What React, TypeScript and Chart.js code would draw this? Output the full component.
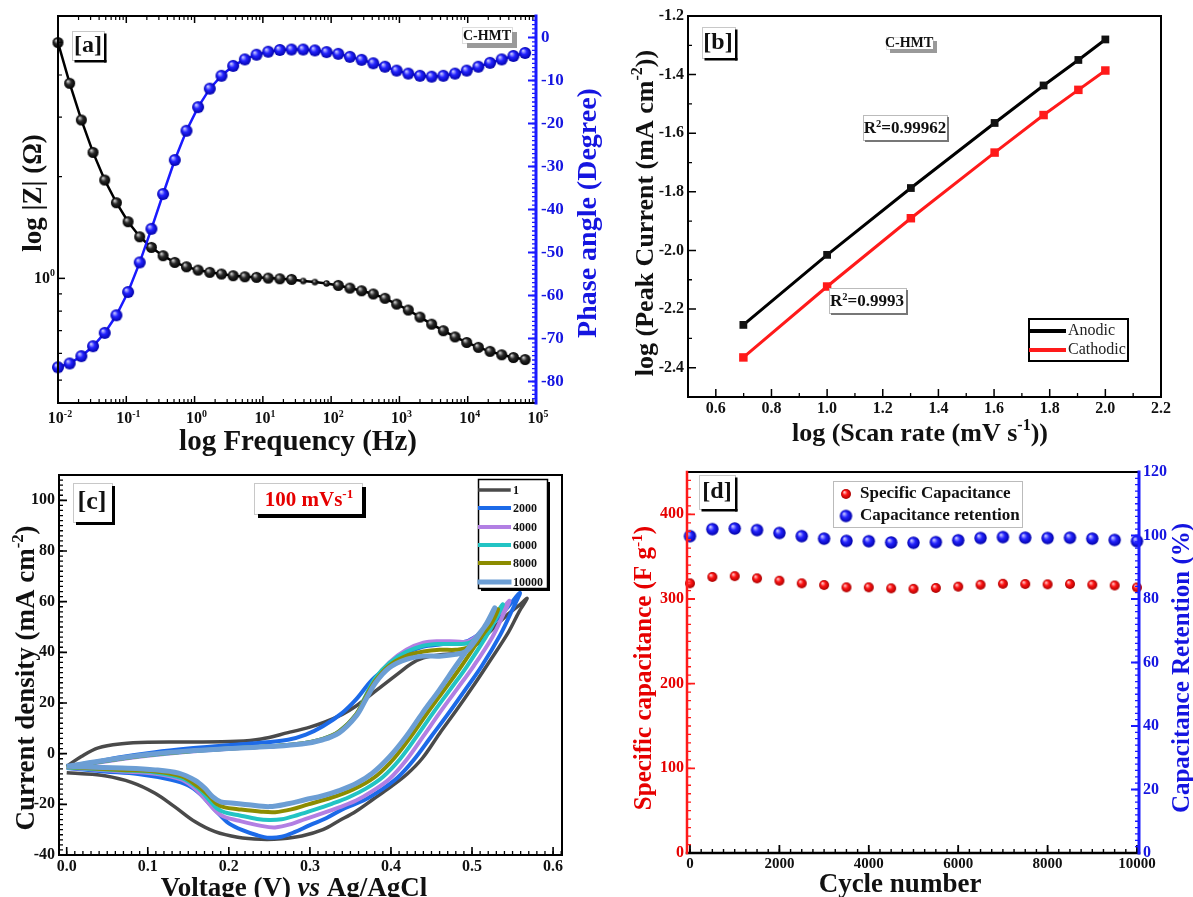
import React, { useEffect, useRef } from 'react';
import { Chart, registerables } from 'chart.js';

Chart.register(...registerables);

const SERIF = '"Liberation Serif", "Times New Roman", Times, serif';
const BLUE = '#1a1aff';
const BLUE_TXT = '#1515e0';
const RED = '#ff1a1a';
const RED_TXT = '#e60000';

// ================= Panel [a] : Bode plot =================
const bodeFrequencyHz = [0.01, 0.01483, 0.02198, 0.03258, 0.04831, 0.07161, 0.1062, 0.1574, 0.2333, 0.3459, 0.5129, 0.7603, 1.127, 1.671, 2.477, 3.673, 5.445, 8.072, 11.97, 17.74, 26.3, 38.99, 57.81, 85.7, 127.1, 188.4, 279.3, 414.0, 613.8, 910.0, 1349, 2000, 2965, 4395, 6516, 9661, 14320, 21230, 31480, 46670, 69180];
const bodeImpedanceOhm = [4.99, 3.78, 2.944, 2.36, 1.955, 1.675, 1.471, 1.328, 1.235, 1.167, 1.115, 1.082, 1.058, 1.042, 1.03, 1.018, 1.011, 1.007, 1.002, 0.997, 0.993, 0.982, 0.975, 0.966, 0.953, 0.936, 0.919, 0.899, 0.873, 0.839, 0.806, 0.768, 0.732, 0.7, 0.671, 0.646, 0.625, 0.608, 0.594, 0.583, 0.575];
const bodePhaseDeg = [-76.7, -75.8, -74.1, -71.8, -68.7, -64.6, -59.2, -52.3, -44.5, -36.4, -28.5, -21.7, -16.2, -11.9, -8.9, -6.6, -5.1, -4.0, -3.3, -2.9, -2.8, -2.8, -3.0, -3.4, -3.8, -4.5, -5.2, -6.0, -6.8, -7.7, -8.4, -8.9, -9.1, -8.9, -8.4, -7.7, -6.8, -5.9, -5.1, -4.3, -3.6];
const bodeSmallPointIdx = [21, 22, 23];
const bodeFreqTickExponents = [-2, -1, 0, 1, 2, 3, 4, 5];
const bodeImpTickMajor = [1];
const bodeImpTickMinor = [0.5, 0.6, 0.7, 0.8, 0.9, 2, 3, 4, 5];
const bodePhaseTicks = [0, -10, -20, -30, -40, -50, -60, -70, -80];

// ================= Panel [b] : log ip vs log v =================
const logScanRate = [0.699, 1.0, 1.301, 1.602, 1.778, 1.903, 2.0];
const logIpAnodic = [-2.254, -2.015, -1.787, -1.565, -1.437, -1.35, -1.28];
const logIpCathodic = [-2.365, -2.123, -1.89, -1.666, -1.538, -1.452, -1.386];
const bTicksX = [0.6, 0.8, 1.0, 1.2, 1.4, 1.6, 1.8, 2.0, 2.2];
const bTicksY = [-1.2, -1.4, -1.6, -1.8, -2.0, -2.2, -2.4];

// ================= Panel [c] : CV curves after cycling =================
const cvCycleLabels = ['1', '2000', '4000', '6000', '8000', '10000'];
const cvCycle1 = [[0, -5], [0.018, -1.1], [0.039, 2.3], [0.068, 3.9], [0.1, 4.5], [0.15, 4.6], [0.21, 4.9], [0.24, 5.8], [0.273, 8.3], [0.3, 10.5], [0.318, 12.4], [0.34, 15.5], [0.357, 18.8], [0.373, 22.7], [0.39, 27], [0.41, 31.9], [0.425, 35.5], [0.44, 37.8], [0.464, 39.2], [0.489, 39.9], [0.505, 43], [0.52, 47.5], [0.542, 54.4], [0.558, 58.5], [0.568, 61.3],
  [0.558, 56], [0.545, 48], [0.522, 36.6], [0.5, 26], [0.48, 16.8], [0.46, 8], [0.439, -1.7], [0.42, -8], [0.398, -13.5], [0.378, -18], [0.357, -22.7], [0.336, -26.5], [0.316, -30], [0.29, -32.5], [0.265, -33.6], [0.24, -33.8], [0.211, -33], [0.183, -30.8], [0.158, -26.8], [0.133, -20.9], [0.109, -15.6], [0.08, -11.3], [0.047, -8.7], [0.015, -7.8], [0, -7.5]];
const cvCycle2000 = [[0, -5], [0.027, -3.7], [0.068, -1.3], [0.109, 0.6], [0.15, 2], [0.191, 3.1], [0.232, 4.1], [0.273, 5.5], [0.295, 7.5], [0.316, 10.8], [0.34, 16.1], [0.357, 21.4], [0.377, 29.2], [0.398, 34.6], [0.419, 39.6], [0.439, 42.2], [0.46, 43.1], [0.48, 43.6], [0.493, 44.3], [0.505, 46.4], [0.522, 50.4], [0.542, 57], [0.559, 63.5],
  [0.55, 57], [0.535, 47], [0.512, 34.6], [0.49, 24.5], [0.47, 15.5], [0.449, 6.5], [0.428, -2.5], [0.408, -9.5], [0.387, -14.5], [0.366, -18.5], [0.343, -21.5], [0.32, -25.5], [0.3, -28.2], [0.281, -31], [0.265, -32.8], [0.25, -33.2], [0.235, -32.2], [0.216, -30.1], [0.2, -27.5], [0.19, -24.5], [0.179, -20.9], [0.165, -16], [0.15, -12.5], [0.129, -10.3], [0.088, -8], [0.047, -7], [0, -5.7]];
const cvCycle4000 = [[0, -5.6], [0.05, -3], [0.1, -0.8], [0.15, 0.8], [0.2, 1.9], [0.25, 2.8], [0.29, 3.9], [0.316, 5.6], [0.336, 8.5], [0.357, 15.3], [0.369, 22.5], [0.381, 29.5], [0.398, 36], [0.419, 41], [0.44, 43.8], [0.46, 44.4], [0.48, 44.3], [0.495, 44.3], [0.508, 47], [0.53, 54], [0.546, 60.4],
  [0.538, 54.5], [0.525, 46], [0.502, 34.6], [0.481, 25.3], [0.46, 16.1], [0.44, 6.9], [0.419, -2.5], [0.398, -10], [0.377, -14.8], [0.357, -18.5], [0.336, -21.2], [0.316, -23.5], [0.294, -25.8], [0.277, -27.8], [0.257, -29.1], [0.24, -28.5], [0.211, -26.4], [0.195, -25], [0.185, -23], [0.175, -19.5], [0.162, -14.9], [0.142, -10.3], [0.109, -7.9], [0.068, -7], [0, -5.6]];
const cvCycle6000 = [[0, -5.5], [0.05, -2.8], [0.1, -0.6], [0.15, 0.9], [0.2, 2], [0.25, 2.9], [0.29, 4], [0.316, 5.8], [0.336, 8.8], [0.357, 15.5], [0.369, 23], [0.381, 30], [0.398, 35.8], [0.419, 40.2], [0.44, 42.6], [0.46, 43.3], [0.48, 43.3], [0.495, 43.6], [0.508, 46.5], [0.525, 53], [0.538, 59],
  [0.53, 53.5], [0.517, 46], [0.494, 34.6], [0.473, 25.3], [0.452, 16.1], [0.432, 6.9], [0.411, -2.2], [0.39, -9.2], [0.369, -13.8], [0.348, -17.2], [0.327, -19.8], [0.305, -22.2], [0.285, -24.2], [0.265, -25.9], [0.25, -26.2], [0.235, -25.8], [0.211, -24.2], [0.195, -23.2], [0.185, -21.5], [0.175, -18], [0.162, -13.6], [0.142, -9.7], [0.109, -7.4], [0.068, -6.6], [0, -5.5]];
const cvCycle8000 = [[0, -5.3], [0.05, -2.7], [0.1, -0.5], [0.15, 1], [0.2, 2], [0.25, 2.9], [0.29, 4], [0.316, 5.8], [0.336, 8.8], [0.357, 15.5], [0.369, 22.5], [0.381, 29], [0.398, 34.8], [0.419, 38.6], [0.44, 40.3], [0.46, 41], [0.48, 41], [0.495, 42], [0.508, 46], [0.52, 51.5], [0.532, 57],
  [0.525, 52], [0.51, 45.5], [0.487, 34.6], [0.466, 25.3], [0.445, 16.1], [0.425, 6.9], [0.404, -1.8], [0.383, -8.5], [0.362, -12.8], [0.341, -15.8], [0.32, -18], [0.298, -20], [0.277, -22], [0.257, -23.1], [0.24, -22.9], [0.211, -21.9], [0.195, -21.2], [0.185, -19.8], [0.175, -16.5], [0.162, -13], [0.142, -9], [0.109, -7], [0.068, -6.4], [0, -5.3]];
const cvCycle10000 = [[0, -5], [0.05, -2.5], [0.1, -0.3], [0.15, 1.1], [0.2, 2], [0.25, 2.8], [0.29, 3.8], [0.316, 5.5], [0.336, 8.2], [0.357, 14.8], [0.369, 21.4], [0.381, 28], [0.398, 33.9], [0.419, 37.2], [0.44, 38.5], [0.46, 38.5], [0.48, 39.2], [0.493, 40.5], [0.505, 45.1], [0.518, 51.5], [0.528, 57.6],
  [0.52, 52], [0.505, 45.8], [0.48, 34.6], [0.46, 25.3], [0.439, 16.1], [0.419, 6.9], [0.398, -1.3], [0.377, -7.7], [0.357, -11.8], [0.336, -14.6], [0.316, -16.6], [0.294, -18.2], [0.273, -19.8], [0.25, -20.9], [0.224, -20.2], [0.203, -19.5], [0.19, -19], [0.18, -17], [0.17, -13.5], [0.158, -10.5], [0.138, -7.7], [0.109, -6.4], [0.068, -5.7], [0, -5]];
const cvCurves = [cvCycle1, cvCycle2000, cvCycle4000, cvCycle6000, cvCycle8000, cvCycle10000];
const cvColors = ['#4a4a4a', '#1c6ae8', '#b27fe3', '#22c4c4', '#8c8c00', '#6c9ed4'];
const cvWidths = [3.5, 4, 4, 4, 4, 5];
const cvOrder = [5, 4, 3, 2, 1, 0];
const cTicksX = [0, 0.1, 0.2, 0.3, 0.4, 0.5, 0.6];
const cTicksY = [-40, -20, 0, 20, 40, 60, 80, 100];

// ================= Panel [d] : cycling stability =================
const cycleNumbers = [0, 500, 1000, 1500, 2000, 2500, 3000, 3500, 4000, 4500, 5000, 5500, 6000, 6500, 7000, 7500, 8000, 8500, 9000, 9500, 10000];
const specificCapacitance = [318.5, 326, 327, 324.4, 321.6, 318.5, 316.5, 313.8, 313.8, 312.6, 312, 313, 314.6, 316.9, 318, 317.7, 317.3, 317.7, 316.9, 316, 313.6];
const capacitanceRetention = [99.8, 102, 102.2, 101.7, 100.8, 99.8, 99.0, 98.3, 98.2, 97.8, 97.7, 97.9, 98.5, 99.2, 99.5, 99.3, 99.2, 99.3, 99.0, 98.6, 98.2];
const dTicksX = [0, 2000, 4000, 6000, 8000, 10000];
const dTicksYL = [0, 100, 200, 300, 400];
const dTicksYR = [0, 20, 40, 60, 80, 100, 120];

// ================= helpers =================
type Seg = { t: string; sup?: boolean; it?: boolean; w?: string };

function font(size: number, weight = 'bold', italic = false) {
  return `${italic ? 'italic ' : ''}${weight} ${size}px ${SERIF}`;
}

function drawRich(ctx: CanvasRenderingContext2D, segs: Seg[], x: number, y: number, size: number, color: string, align = 'center', rot = 0, weight = 'bold') {
  ctx.save();
  ctx.translate(x, y);
  if (rot) ctx.rotate(rot);
  let total = 0;
  for (const s of segs) {
    ctx.font = font(s.sup ? size * 0.62 : size, s.w ?? weight, !!s.it);
    total += ctx.measureText(s.t).width;
  }
  let cx = align === 'center' ? -total / 2 : align === 'right' ? -total : 0;
  ctx.fillStyle = color;
  ctx.textBaseline = 'middle';
  ctx.textAlign = 'left';
  for (const s of segs) {
    ctx.font = font(s.sup ? size * 0.62 : size, s.w ?? weight, !!s.it);
    ctx.fillText(s.t, cx, s.sup ? -size * 0.3 : 0);
    cx += ctx.measureText(s.t).width;
  }
  ctx.restore();
}

function text(ctx: CanvasRenderingContext2D, s: string, x: number, y: number, size: number, color: string, align: CanvasTextAlign = 'center', weight = 'bold') {
  ctx.save();
  ctx.font = font(size, weight);
  ctx.fillStyle = color;
  ctx.textAlign = align;
  ctx.textBaseline = 'middle';
  ctx.fillText(s, x, y);
  ctx.restore();
}

function line(ctx: CanvasRenderingContext2D, x1: number, y1: number, x2: number, y2: number, color: string, lw: number) {
  ctx.save();
  ctx.strokeStyle = color;
  ctx.lineWidth = lw;
  ctx.lineCap = 'square';
  ctx.beginPath();
  ctx.moveTo(x1, y1);
  ctx.lineTo(x2, y2);
  ctx.stroke();
  ctx.restore();
}

function steps(from: number, to: number, step: number) {
  const out: number[] = [];
  const n = Math.round((to - from) / step);
  for (let i = 0; i <= n; i++) out.push(+(from + i * step).toFixed(6));
  return out;
}

function tickMarks(ctx: CanvasRenderingContext2D, a: any, scale: any, side: string, values: number[], len: number, color: string, lw: number) {
  ctx.save();
  ctx.strokeStyle = color;
  ctx.lineWidth = lw;
  ctx.beginPath();
  for (const v of values) {
    const p = scale.getPixelForValue(v);
    if (side === 'bottom' || side === 'top') {
      if (p < a.left - 0.5 || p > a.right + 0.5) continue;
      const y0 = side === 'bottom' ? a.bottom : a.top;
      const dir = side === 'bottom' ? -1 : 1;
      ctx.moveTo(p, y0);
      ctx.lineTo(p, y0 + dir * len);
    } else {
      if (p < a.top - 0.5 || p > a.bottom + 0.5) continue;
      const x0 = side === 'left' ? a.left : a.right;
      const dir = side === 'left' ? 1 : -1;
      ctx.moveTo(x0, p);
      ctx.lineTo(x0 + dir * len, p);
    }
  }
  ctx.stroke();
  ctx.restore();
}

function shadowBox(ctx: CanvasRenderingContext2D, x: number, y: number, w: number, h: number, border: string, shadow: string, sw: number, borderW = 1) {
  ctx.save();
  ctx.fillStyle = '#fff';
  ctx.fillRect(x, y, w, h);
  ctx.strokeStyle = border;
  ctx.lineWidth = borderW;
  ctx.strokeRect(x + 0.5, y + 0.5, w, h);
  if (sw > 0) {
    ctx.fillStyle = shadow;
    ctx.fillRect(x + w, y + sw, sw, h);
    ctx.fillRect(x + sw, y + h, w, sw);
  }
  ctx.restore();
}

function sphere(r: number, light: string, mid: string, dark: string) {
  const c = document.createElement('canvas');
  const s = Math.ceil(r * 2 + 2);
  c.width = s;
  c.height = s;
  const g = c.getContext('2d')!;
  const cx = s / 2;
  const cy = s / 2;
  const grad = g.createRadialGradient(cx - r * 0.35, cy - r * 0.4, r * 0.05, cx, cy, r);
  grad.addColorStop(0, light);
  grad.addColorStop(0.45, mid);
  grad.addColorStop(1, dark);
  g.fillStyle = grad;
  g.beginPath();
  g.arc(cx, cy, r, 0, Math.PI * 2);
  g.fill();
  return c;
}

function hiddenScale(extra: any, fit: { w?: number; h?: number }) {
  return {
    display: true,
    grid: { display: false, drawTicks: false },
    border: { display: false },
    ticks: { display: false },
    title: { display: false },
    afterFit: (s: any) => {
      if (fit.w !== undefined) s.width = fit.w;
      if (fit.h !== undefined) s.height = fit.h;
    },
    ...extra,
  };
}

function baseOptions(padding: any, scales: any) {
  return {
    animation: false,
    responsive: false,
    maintainAspectRatio: false,
    events: [],
    layout: { padding },
    plugins: { legend: { display: false }, tooltip: { enabled: false } },
    scales,
  };
}

// ================= panel builders =================
const A_OFF = { x: 0, y: 0, w: 610, h: 460 };
const B_OFF = { x: 600, y: 0, w: 593, h: 460 };
const C_OFF = { x: 0, y: 460, w: 610, h: 437 };
const D_OFF = { x: 600, y: 460, w: 593, h: 437 };

function makeA(canvas: HTMLCanvasElement) {
  const blackBall = sphere(5.5, '#d8d8d8', '#2a2a2a', '#000');
  const blackSmall = sphere(3.2, '#d8d8d8', '#2a2a2a', '#000');
  const blueBall = sphere(6, '#d0d0ff', '#2424ff', '#0000a8');
  const plugin = {
    id: 'decorA',
    afterDraw(chart: any) {
      const ctx = chart.ctx as CanvasRenderingContext2D;
      const a = chart.chartArea;
      const { x, yL, yR } = chart.scales;
      const majorX = bodeFreqTickExponents.map((e) => Math.pow(10, e));
      const minorX: number[] = [];
      for (let e = -2; e < 5; e++) for (let m = 2; m <= 9; m++) minorX.push(m * Math.pow(10, e));
      tickMarks(ctx, a, x, 'bottom', majorX, 7, '#000', 1.5);
      tickMarks(ctx, a, x, 'bottom', minorX, 4, '#000', 1.2);
      tickMarks(ctx, a, x, 'top', majorX, 7, '#000', 1.5);
      tickMarks(ctx, a, x, 'top', minorX, 4, '#000', 1.2);
      tickMarks(ctx, a, yL, 'left', bodeImpTickMajor, 7, '#000', 1.5);
      tickMarks(ctx, a, yL, 'left', bodeImpTickMinor, 4, '#000', 1.2);
      tickMarks(ctx, a, yR, 'right', bodePhaseTicks, 8, BLUE, 2);
      tickMarks(ctx, a, yR, 'right', steps(-85, 5, 1), 4, BLUE, 1.3);
      line(ctx, a.left, a.bottom, a.right, a.bottom, '#000', 2);
      line(ctx, a.left, a.top, a.right, a.top, '#000', 2);
      line(ctx, a.left, a.top, a.left, a.bottom, '#000', 2);
      line(ctx, a.right, a.top, a.right, a.bottom, BLUE, 3);
      for (const e of bodeFreqTickExponents) {
        drawRich(ctx, [{ t: '10' }, { t: String(e), sup: true }], x.getPixelForValue(Math.pow(10, e)) + 2, a.bottom + 16, 16, '#111');
      }
      drawRich(ctx, [{ t: '10' }, { t: '0', sup: true }], a.left - 3, yL.getPixelForValue(1), 16, '#111', 'right');
      for (const v of bodePhaseTicks) text(ctx, String(v), a.right + 5, yR.getPixelForValue(v), 17, BLUE_TXT, 'left');
      drawRich(ctx, [{ t: 'log Frequency (Hz)' }], 298, 443, 29, '#111');
      drawRich(ctx, [{ t: 'log |Z| (Ω)' }], 34, 193, 27, '#111', 'center', -Math.PI / 2);
      drawRich(ctx, [{ t: 'Phase angle (Degree)' }], 589, 213, 28, BLUE_TXT, 'center', -Math.PI / 2);
      shadowBox(ctx, 72, 31, 32, 29, '#c8c8c8', '#000', 2.5);
      text(ctx, '[a]', 88, 46, 24, '#111');
      shadowBox(ctx, 462, 27, 50, 16, '#dddddd', '#9a9a9a', 5);
      text(ctx, 'C-HMT', 487, 36, 14, '#111');
    },
  };
  return new Chart(canvas, {
    type: 'scatter',
    data: {
      datasets: [
        {
          label: 'Phase angle',
          data: bodeFrequencyHz.map((f, i) => ({ x: f, y: bodePhaseDeg[i] })),
          yAxisID: 'yR',
          showLine: true,
          borderColor: BLUE,
          borderWidth: 2.5,
          pointStyle: blueBall,
          pointRadius: 6,
          clip: false,
          order: 0,
        },
        {
          label: '|Z|',
          data: bodeFrequencyHz.map((f, i) => ({ x: f, y: bodeImpedanceOhm[i] })),
          yAxisID: 'yL',
          showLine: true,
          borderColor: '#000',
          borderWidth: 2.5,
          pointStyle: bodeFrequencyHz.map((_, i) => (bodeSmallPointIdx.includes(i) ? blackSmall : blackBall)),
          pointRadius: 5.5,
          clip: false,
          order: 1,
        },
      ] as any,
    },
    options: baseOptions({ top: 16, left: 0, right: 0, bottom: 0 }, {
      x: hiddenScale({ type: 'logarithmic', position: 'bottom', min: 0.01, max: 1e5 }, { h: 57 }),
      yL: hiddenScale({ type: 'logarithmic', position: 'left', min: 0.4276, max: 5.98 }, { w: 58 }),
      yR: hiddenScale({ type: 'linear', position: 'right', min: -85, max: 5 }, { w: A_OFF.w - 536 }),
    }) as any,
    plugins: [plugin],
  });
}

function makeB(canvas: HTMLCanvasElement) {
  const plugin = {
    id: 'decorB',
    afterDraw(chart: any) {
      const ctx = chart.ctx as CanvasRenderingContext2D;
      const a = chart.chartArea;
      const { x, y } = chart.scales;
      tickMarks(ctx, a, x, 'bottom', bTicksX, 8, '#000', 1.5);
      tickMarks(ctx, a, x, 'bottom', steps(0.5, 2.1, 0.2), 4, '#000', 1.3);
      tickMarks(ctx, a, y, 'left', bTicksY, 8, '#000', 1.5);
      tickMarks(ctx, a, y, 'left', steps(-2.5, -1.3, 0.2), 4, '#000', 1.3);
      ctx.save();
      ctx.strokeStyle = '#000';
      ctx.lineWidth = 2;
      ctx.strokeRect(a.left, a.top, a.right - a.left, a.bottom - a.top);
      ctx.restore();
      for (const v of bTicksX) text(ctx, v.toFixed(1), x.getPixelForValue(v), a.bottom + 12, 16, '#111');
      for (const v of bTicksY) text(ctx, v.toFixed(1), a.left - 4, y.getPixelForValue(v), 16, '#111', 'right');
      ctx.save();
      ctx.translate(-B_OFF.x, -B_OFF.y);
      drawRich(ctx, [{ t: 'log (Scan rate (mV s' }, { t: '-1', sup: true }, { t: '))' }], 920, 434, 26, '#111');
      drawRich(ctx, [{ t: 'log (Peak Current (mA cm' }, { t: '-2', sup: true }, { t: '))' }], 646, 213, 26, '#111', 'center', -Math.PI / 2);
      shadowBox(ctx, 702, 27, 33, 31, '#c8c8c8', '#000', 2.5);
      text(ctx, '[b]', 718, 43, 24, '#111');
      shadowBox(ctx, 886, 37, 47, 12, '#dddddd', '#9a9a9a', 4);
      text(ctx, 'C-HMT', 909, 43, 14, '#111');
      shadowBox(ctx, 863, 115, 84, 25, '#bbbbbb', '#777', 2);
      drawRich(ctx, [{ t: 'R' }, { t: '2', sup: true }, { t: '=0.99962' }], 905, 129, 17, '#111');
      shadowBox(ctx, 829, 288, 77, 25, '#bbbbbb', '#777', 2);
      drawRich(ctx, [{ t: 'R' }, { t: '2', sup: true }, { t: '=0.9993' }], 867, 302, 17, '#111');
      ctx.fillStyle = '#fff';
      ctx.fillRect(1029, 319, 99, 42);
      ctx.strokeStyle = '#000';
      ctx.lineWidth = 2;
      ctx.strokeRect(1029, 319, 99, 42);
      line(ctx, 1031, 331, 1064, 331, '#000', 4);
      line(ctx, 1031, 350, 1064, 350, RED, 4);
      text(ctx, 'Anodic', 1068, 331, 16, '#222', 'left', 'normal');
      text(ctx, 'Cathodic', 1068, 350, 16, '#222', 'left', 'normal');
      ctx.restore();
    },
  };
  return new Chart(canvas, {
    type: 'scatter',
    data: {
      datasets: [
        {
          label: 'Anodic',
          data: logScanRate.map((v, i) => ({ x: v, y: logIpAnodic[i] })),
          showLine: true,
          borderColor: '#000',
          backgroundColor: '#000',
          borderWidth: 3,
          pointStyle: 'rect',
          pointRadius: 5.5,
          pointBorderWidth: 0,
          pointBackgroundColor: '#111',
        },
        {
          label: 'Cathodic',
          data: logScanRate.map((v, i) => ({ x: v, y: logIpCathodic[i] })),
          showLine: true,
          borderColor: RED,
          backgroundColor: RED,
          borderWidth: 3,
          pointStyle: 'rect',
          pointRadius: 6,
          pointBorderWidth: 0,
          pointBackgroundColor: RED,
        },
      ] as any,
    },
    options: baseOptions({ top: 16, left: 0, right: B_OFF.w - (1161 - B_OFF.x), bottom: 0 }, {
      x: hiddenScale({ type: 'linear', position: 'bottom', min: 0.5, max: 2.2 }, { h: B_OFF.h - 397 }),
      y: hiddenScale({ type: 'linear', position: 'left', min: -2.5, max: -1.2 }, { w: 688 - B_OFF.x }),
    }) as any,
    plugins: [plugin],
  });
}

function makeC(canvas: HTMLCanvasElement) {
  const plugin = {
    id: 'decorC',
    afterDraw(chart: any) {
      const ctx = chart.ctx as CanvasRenderingContext2D;
      const a = chart.chartArea;
      const { x, y } = chart.scales;
      tickMarks(ctx, a, x, 'bottom', cTicksX, 8, '#000', 1.6);
      tickMarks(ctx, a, x, 'bottom', steps(0, 0.61, 0.01), 4, '#000', 1.3);
      tickMarks(ctx, a, y, 'left', cTicksY, 8, '#000', 1.6);
      tickMarks(ctx, a, y, 'left', steps(-40, 110, 2), 4, '#000', 1.3);
      ctx.save();
      ctx.strokeStyle = '#000';
      ctx.lineWidth = 2;
      ctx.strokeRect(a.left, a.top, a.right - a.left, a.bottom - a.top);
      ctx.restore();
      for (const v of cTicksX) text(ctx, v.toFixed(1), x.getPixelForValue(v), a.bottom + 12, 16, '#111');
      for (const v of cTicksY) text(ctx, String(v), a.left - 4, y.getPixelForValue(v), 16, '#111', 'right');
      ctx.save();
      ctx.translate(-C_OFF.x, -C_OFF.y);
      drawRich(ctx, [{ t: 'Voltage (V) ' }, { t: 'vs', it: true }, { t: ' Ag/AgCl' }], 294, 889, 27, '#111');
      drawRich(ctx, [{ t: 'Current density (mA cm' }, { t: '-2', sup: true }, { t: ')' }], 27, 678, 27, '#111', 'center', -Math.PI / 2);
      shadowBox(ctx, 73, 483, 39, 39, '#c8c8c8', '#000', 3);
      text(ctx, '[c]', 92, 502, 26, '#111');
      shadowBox(ctx, 254, 483, 108, 31, '#c8c8c8', '#000', 4);
      drawRich(ctx, [{ t: '100 mVs' }, { t: '-1', sup: true }], 309, 501, 21, RED_TXT);
      shadowBox(ctx, 478, 479, 69, 109, '#000', '#000', 3, 1.5);
      const rowsY = [490, 508, 527, 545, 563, 582];
      cvCycleLabels.forEach((lab, i) => {
        line(ctx, 480, rowsY[i], 509, rowsY[i], cvColors[i], cvWidths[i]);
        text(ctx, lab, 513, rowsY[i] + 1, 12, '#111', 'left');
      });
      ctx.restore();
    },
  };
  return new Chart(canvas, {
    type: 'scatter',
    data: {
      datasets: cvCurves.map((curve, i) => ({
        label: cvCycleLabels[i],
        data: curve.map((p) => ({ x: p[0], y: p[1] })),
        showLine: true,
        borderColor: cvColors[i],
        borderWidth: cvWidths[i],
        pointRadius: 0,
        tension: 0.35,
        order: cvOrder[i],
      })) as any,
    },
    options: baseOptions({ top: 15, left: 0, right: C_OFF.w - 562, bottom: 0 }, {
      x: hiddenScale({ type: 'linear', position: 'bottom', min: -0.0095, max: 0.611 }, { h: C_OFF.h - (855 - C_OFF.y) }),
      y: hiddenScale({ type: 'linear', position: 'left', min: -40, max: 110 }, { w: 59 }),
    }) as any,
    plugins: [plugin],
  });
}

function makeD(canvas: HTMLCanvasElement) {
  const redBall = sphere(5, '#ffd0d0', '#ff1414', '#a80000');
  const blueBall = sphere(6.2, '#d0d0ff', '#2424ff', '#0000a8');
  const plugin = {
    id: 'decorD',
    afterDraw(chart: any) {
      const ctx = chart.ctx as CanvasRenderingContext2D;
      const a = chart.chartArea;
      const { x, yL, yR } = chart.scales;
      tickMarks(ctx, a, x, 'bottom', dTicksX, 8, '#000', 1.8);
      tickMarks(ctx, a, x, 'bottom', steps(0, 10000, 250), 4, '#000', 1.4);
      tickMarks(ctx, a, yL, 'left', dTicksYL, 8, RED, 1.8);
      tickMarks(ctx, a, yL, 'left', steps(0, 450, 10), 4, RED, 1.3);
      tickMarks(ctx, a, yR, 'right', dTicksYR, 8, BLUE, 2);
      tickMarks(ctx, a, yR, 'right', steps(0, 120, 2), 4, BLUE, 1.3);
      line(ctx, a.left, a.top, a.right, a.top, '#000', 2);
      line(ctx, a.left, a.bottom, a.right, a.bottom, '#000', 2.5);
      line(ctx, a.left, a.top, a.left, a.bottom, RED, 2.5);
      line(ctx, a.right, a.top, a.right, a.bottom, BLUE, 3);
      for (const v of dTicksX) text(ctx, String(v), x.getPixelForValue(v), a.bottom + 11, 15, '#111');
      for (const v of dTicksYL) text(ctx, String(v), a.left - 3, yL.getPixelForValue(v), 16, RED_TXT, 'right');
      for (const v of dTicksYR) text(ctx, String(v), a.right + 4, yR.getPixelForValue(v), 16, BLUE_TXT, 'left');
      ctx.save();
      ctx.translate(-D_OFF.x, -D_OFF.y);
      drawRich(ctx, [{ t: 'Cycle number' }], 900, 885, 27, '#111');
      drawRich(ctx, [{ t: 'Specific capacitance (F g' }, { t: '-1', sup: true }, { t: ')' }], 645, 668, 25, RED_TXT, 'center', -Math.PI / 2);
      drawRich(ctx, [{ t: 'Capacitance Retention (%)' }], 1183, 668, 25, BLUE_TXT, 'center', -Math.PI / 2);
      shadowBox(ctx, 699, 475, 36, 34, '#c8c8c8', '#000', 2.5);
      text(ctx, '[d]', 717, 492, 24, '#111');
      ctx.fillStyle = '#fff';
      ctx.fillRect(833, 481, 189, 46);
      ctx.strokeStyle = '#bbbbbb';
      ctx.lineWidth = 1;
      ctx.strokeRect(833.5, 481.5, 189, 46);
      ctx.drawImage(redBall, 846 - redBall.width / 2, 494 - redBall.height / 2);
      ctx.drawImage(blueBall, 846 - blueBall.width / 2, 516 - blueBall.height / 2);
      text(ctx, 'Specific Capacitance', 860, 494, 17, '#111', 'left');
      text(ctx, 'Capacitance retention', 860, 516, 17, '#111', 'left');
      ctx.restore();
    },
  };
  return new Chart(canvas, {
    type: 'scatter',
    data: {
      datasets: [
        {
          label: 'Specific Capacitance',
          data: cycleNumbers.map((c, i) => ({ x: c, y: specificCapacitance[i] })),
          yAxisID: 'yL',
          pointStyle: redBall,
          pointRadius: 5,
          clip: false,
        },
        {
          label: 'Capacitance retention',
          data: cycleNumbers.map((c, i) => ({ x: c, y: capacitanceRetention[i] })),
          yAxisID: 'yR',
          pointStyle: blueBall,
          pointRadius: 6,
          clip: false,
        },
      ] as any,
    },
    options: baseOptions({ top: 12, left: 0, right: 0, bottom: 0 }, {
      x: hiddenScale({ type: 'linear', position: 'bottom', min: -67, max: 10045 }, { h: D_OFF.h - (853 - D_OFF.y) }),
      yL: hiddenScale({ type: 'linear', position: 'left', min: 0, max: 450 }, { w: 687 - D_OFF.x }),
      yR: hiddenScale({ type: 'linear', position: 'right', min: 0, max: 120 }, { w: D_OFF.w - (1139 - D_OFF.x) }),
    }) as any,
    plugins: [plugin],
  });
}

function Panel({ off, make }: { off: { x: number; y: number; w: number; h: number }; make: (c: HTMLCanvasElement) => Chart }) {
  const ref = useRef<HTMLCanvasElement>(null);
  useEffect(() => {
    const chart = make(ref.current!);
    return () => chart.destroy();
  }, []);
  return (
    <canvas
      ref={ref}
      width={off.w}
      height={off.h}
      style={{ position: 'absolute', left: off.x, top: off.y, width: off.w, height: off.h, display: 'block' }}
    />
  );
}

export default function App() {
  return (
    <div style={{ position: 'absolute', left: 0, top: 0, width: 1193, height: 897, background: '#fff', overflow: 'hidden' }}>
      <Panel off={A_OFF} make={makeA} />
      <Panel off={B_OFF} make={makeB} />
      <Panel off={C_OFF} make={makeC} />
      <Panel off={D_OFF} make={makeD} />
    </div>
  );
}
